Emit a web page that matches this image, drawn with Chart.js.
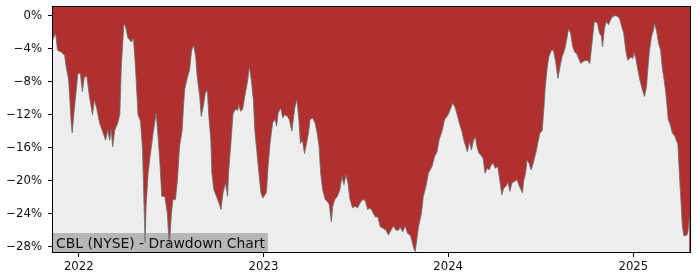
<!DOCTYPE html>
<html>
<head>
<meta charset="utf-8">
<script src="https://cdn.jsdelivr.net/npm/chart.js@4.4.1/dist/chart.umd.min.js"></script>
<style>
  html, body { margin: 0; padding: 0; background: #fff; }
</style>
</head>
<body>
<canvas id="chart" width="700" height="280"></canvas>
<script>
// drawdown samples (percent below running high)
const dates = [
  "2021-11-11", "2021-11-16", "2021-11-20", "2021-11-27", "2021-12-04", "2021-12-07", "2021-12-12", "2021-12-17",
  "2021-12-19", "2021-12-23", "2021-12-27", "2021-12-30", "2022-01-04", "2022-01-08", "2022-01-12", "2022-01-17",
  "2022-01-22", "2022-01-28", "2022-02-01", "2022-02-06", "2022-02-11", "2022-02-18", "2022-02-23", "2022-02-27",
  "2022-03-03", "2022-03-06", "2022-03-09", "2022-03-13", "2022-03-19", "2022-03-23", "2022-03-26", "2022-03-31",
  "2022-04-03", "2022-04-08", "2022-04-15", "2022-04-19", "2022-04-23", "2022-04-28", "2022-05-03", "2022-05-07",
  "2022-05-10", "2022-05-12", "2022-05-14", "2022-05-18", "2022-05-21", "2022-05-28", "2022-06-03", "2022-06-06",
  "2022-06-10", "2022-06-14", "2022-06-20", "2022-06-25", "2022-06-29", "2022-07-03", "2022-07-06", "2022-07-11",
  "2022-07-15", "2022-07-19", "2022-07-24", "2022-07-29", "2022-08-04", "2022-08-08", "2022-08-12", "2022-08-16",
  "2022-08-20", "2022-08-23", "2022-08-28", "2022-08-31", "2022-09-04", "2022-09-08", "2022-09-12", "2022-09-15",
  "2022-09-19", "2022-09-21", "2022-09-25", "2022-09-30", "2022-10-05", "2022-10-09", "2022-10-13", "2022-10-18",
  "2022-10-22", "2022-10-24", "2022-10-28", "2022-11-02", "2022-11-07", "2022-11-11", "2022-11-13", "2022-11-17",
  "2022-11-21", "2022-11-25", "2022-12-01", "2022-12-04", "2022-12-08", "2022-12-12", "2022-12-15", "2022-12-18",
  "2022-12-23", "2022-12-27", "2022-12-31", "2023-01-07", "2023-01-10", "2023-01-14", "2023-01-19", "2023-01-24",
  "2023-01-27", "2023-01-30", "2023-02-04", "2023-02-08", "2023-02-12", "2023-02-17", "2023-02-21", "2023-02-26",
  "2023-03-01", "2023-03-04", "2023-03-08", "2023-03-12", "2023-03-15", "2023-03-19", "2023-03-23", "2023-03-27",
  "2023-03-31", "2023-04-03", "2023-04-08", "2023-04-13", "2023-04-17", "2023-04-21", "2023-04-24", "2023-04-28",
  "2023-05-03", "2023-05-07", "2023-05-11", "2023-05-15", "2023-05-18", "2023-05-22", "2023-05-27", "2023-06-01",
  "2023-06-05", "2023-06-09", "2023-06-13", "2023-06-17", "2023-06-21", "2023-06-26", "2023-07-01", "2023-07-06",
  "2023-07-11", "2023-07-16", "2023-07-21", "2023-07-26", "2023-07-31", "2023-08-04", "2023-08-10", "2023-08-15",
  "2023-08-20", "2023-08-26", "2023-08-31", "2023-09-05", "2023-09-10", "2023-09-15", "2023-09-20", "2023-09-25",
  "2023-09-28", "2023-10-03", "2023-10-08", "2023-10-13", "2023-10-18", "2023-10-21", "2023-10-25", "2023-10-28",
  "2023-10-31", "2023-11-03", "2023-11-09", "2023-11-13", "2023-11-18", "2023-11-23", "2023-11-30", "2023-12-05",
  "2023-12-10", "2023-12-14", "2023-12-20", "2023-12-25", "2024-01-01", "2024-01-05", "2024-01-10", "2024-01-14",
  "2024-01-18", "2024-01-23", "2024-01-28", "2024-02-01", "2024-02-05", "2024-02-08", "2024-02-12", "2024-02-16",
  "2024-02-20", "2024-02-24", "2024-02-27", "2024-03-02", "2024-03-06", "2024-03-10", "2024-03-14", "2024-03-18",
  "2024-03-22", "2024-03-26", "2024-03-30", "2024-04-03", "2024-04-08", "2024-04-12", "2024-04-16", "2024-04-20",
  "2024-04-24", "2024-04-28", "2024-05-02", "2024-05-06", "2024-05-11", "2024-05-16", "2024-05-21", "2024-05-27",
  "2024-05-29", "2024-06-02", "2024-06-05", "2024-06-09", "2024-06-13", "2024-06-17", "2024-06-22", "2024-06-26",
  "2024-06-30", "2024-07-05", "2024-07-08", "2024-07-11", "2024-07-15", "2024-07-18", "2024-07-23", "2024-07-27",
  "2024-07-31", "2024-08-05", "2024-08-09", "2024-08-13", "2024-08-18", "2024-08-22", "2024-08-26", "2024-08-30",
  "2024-09-03", "2024-09-07", "2024-09-11", "2024-09-15", "2024-09-19", "2024-09-25", "2024-10-02", "2024-10-07",
  "2024-10-12", "2024-10-16", "2024-10-22", "2024-10-26", "2024-10-30", "2024-11-01", "2024-11-05", "2024-11-09",
  "2024-11-13", "2024-11-17", "2024-11-21", "2024-11-27", "2024-12-01", "2024-12-05", "2024-12-09", "2024-12-13",
  "2024-12-17", "2024-12-21", "2024-12-27", "2024-12-31", "2025-01-02", "2025-01-06", "2025-01-10", "2025-01-14",
  "2025-01-19", "2025-01-23", "2025-01-27", "2025-01-30", "2025-02-02", "2025-02-06", "2025-02-10", "2025-02-12",
  "2025-02-16", "2025-02-20", "2025-02-24", "2025-02-27", "2025-03-03", "2025-03-07", "2025-03-11", "2025-03-15",
  "2025-03-19", "2025-03-24", "2025-03-28", "2025-03-30", "2025-04-02", "2025-04-05", "2025-04-08", "2025-04-11",
  "2025-04-17", "2025-04-19", "2025-04-22",
];

const drawdown = [
  -2.9, -2.1, -4.2, -4.4, -4.8, -6.2, -7.8, -13.0,
  -14.2, -11.4, -9.0, -7.0, -7.0, -9.2, -7.4, -7.4,
  -9.8, -12.0, -10.2, -11.4, -13.0, -14.2, -15.1, -13.9,
  -15.1, -13.8, -15.9, -13.9, -13.0, -12.0, -6.2, -1.1,
  -1.2, -2.7, -3.2, -2.7, -6.2, -12.0, -12.8, -16.3,
  -23.1, -27.5, -23.1, -19.1, -17.5, -14.2, -11.8, -14.2,
  -17.5, -21.9, -21.9, -24.0, -28.0, -24.0, -22.3, -22.3,
  -19.9, -15.9, -14.0, -9.0, -7.4, -6.6, -4.2, -3.6,
  -5.0, -7.4, -9.8, -12.2, -11.0, -9.4, -9.0, -12.2,
  -15.1, -19.1, -21.1, -21.9, -22.7, -23.5, -21.5, -20.3,
  -21.9, -19.1, -15.9, -11.8, -11.3, -11.5, -10.8, -11.6,
  -11.3, -9.8, -7.8, -6.2, -7.8, -10.2, -14.0, -15.9,
  -19.1, -21.5, -22.1, -21.4, -18.3, -15.5, -13.0, -12.6,
  -13.4, -11.8, -11.2, -12.4, -12.0, -12.2, -12.6, -14.0,
  -12.6, -11.1, -10.2, -12.6, -15.5, -15.1, -16.7, -15.5,
  -14.2, -12.6, -12.4, -13.0, -14.2, -15.9, -19.1, -21.1,
  -22.3, -22.5, -22.9, -25.0, -23.1, -22.3, -21.9, -21.1,
  -19.5, -20.5, -19.3, -20.3, -22.3, -23.3, -23.1, -23.3,
  -22.7, -22.3, -22.4, -23.5, -23.3, -23.7, -24.4, -24.4,
  -25.6, -25.8, -26.0, -26.6, -26.0, -25.5, -26.0, -26.0,
  -25.6, -26.2, -25.5, -26.4, -26.6, -27.2, -28.2, -28.6,
  -27.2, -25.7, -24.0, -21.9, -20.7, -19.1, -18.3, -17.1,
  -16.5, -15.1, -14.0, -12.6, -12.0, -11.4, -10.6, -11.0,
  -11.8, -13.0, -14.0, -15.1, -15.9, -16.5, -15.3, -16.3,
  -15.1, -14.7, -15.9, -16.7, -16.9, -17.3, -19.1, -18.5,
  -18.7, -18.1, -17.9, -18.5, -18.3, -19.9, -21.7, -20.9,
  -20.7, -20.2, -21.3, -20.3, -20.1, -19.9, -20.7, -21.5,
  -20.1, -19.1, -17.5, -17.9, -18.7, -17.9, -16.7, -15.5,
  -14.3, -13.9, -11.4, -8.6, -6.2, -5.0, -4.2, -4.2,
  -5.4, -7.6, -6.2, -5.0, -4.2, -3.0, -1.6, -2.1,
  -3.7, -4.4, -4.6, -5.2, -5.8, -5.5, -5.4, -5.8,
  -2.9, -0.7, -0.9, -2.1, -2.5, -3.8, -1.5, -0.7,
  -1.1, -0.5, -0.1, 0.0, -0.1, -0.4, -1.3, -2.1,
  -4.2, -5.4, -5.0, -5.2, -4.4, -5.2, -6.6, -7.8,
  -9.0, -9.8, -8.6, -6.2, -4.2, -2.5, -1.7, -0.9,
  -1.9, -3.4, -4.2, -6.2, -7.8, -9.8, -12.6, -13.2,
  -14.2, -14.6, -15.3, -15.5, -19.1, -22.3, -25.6, -26.7,
  -26.6, -26.1, -24.4,
];

const yearTicks = ["2022-01-01", "2023-01-01", "2024-01-01", "2025-01-01"];
const yTicks = [0, -4, -8, -12, -16, -20, -24, -28];
const xEnd = "2025-04-23";
const yMin = -28.65;
const yMax = 1.05;
const title = "CBL (NYSE) - Drawdown Chart";

const DAY = 86400000;
const toDay = (s) => Date.parse(s + "T00:00:00Z") / DAY;
const points = dates.map((d, i) => ({ x: toDay(d), y: drawdown[i] }));

const tickFont = { family: "'DejaVu Sans', sans-serif", size: 11.7 };

// red plot background, black frame and the caption box in the corner
const framePlugin = {
  id: "frame",
  beforeDraw(chart) {
    const { ctx, chartArea: a } = chart;
    ctx.save();
    ctx.fillStyle = "#b03030";
    ctx.fillRect(a.left, a.top, a.right - a.left, a.bottom - a.top);
    ctx.restore();
  },
  afterDraw(chart) {
    const { ctx, chartArea: a } = chart;
    ctx.save();
    ctx.font = "13.9px 'DejaVu Sans', sans-serif";
    const w = ctx.measureText(title).width;
    ctx.fillStyle = "rgba(128,128,128,0.5)";
    ctx.fillRect(a.left, a.bottom - 19, w + 6, 19);
    ctx.fillStyle = "#111";
    ctx.textBaseline = "alphabetic";
    ctx.fillText(title, a.left + 3, a.bottom - 4.5);

    ctx.strokeStyle = "#000";
    ctx.lineWidth = 1;
    ctx.strokeRect(a.left - 0.5, a.top - 0.5, a.right - a.left + 1, a.bottom - a.top + 1);
    ctx.restore();
  },
};

new Chart(document.getElementById("chart"), {
  type: "line",
  data: {
    datasets: [
      {
        data: points,
        borderColor: "rgba(110,110,110,0.85)",
        borderWidth: 1,
        backgroundColor: "#eeeeee",
        fill: "start",
        pointRadius: 0,
        tension: 0,
      },
    ],
  },
  options: {
    responsive: false,
    animation: false,
    events: [],
    layout: { padding: { top: 7, right: 10, left: 0, bottom: 0 } },
    plugins: { legend: { display: false }, tooltip: { enabled: false } },
    scales: {
      x: {
        type: "linear",
        min: toDay(dates[0]),
        max: toDay(xEnd),
        afterBuildTicks: (s) => {
          s.ticks = yearTicks.map((d) => ({ value: toDay(d) }));
        },
        afterFit: (s) => {
          s.height = 28;
          s.paddingLeft = 0;
          s.paddingRight = 0;
        },
        grid: { drawOnChartArea: false, drawTicks: true, tickLength: 5, color: "#000" },
        border: { display: false },
        ticks: {
          autoSkip: false,
          maxRotation: 0,
          padding: 3,
          color: "#111",
          font: tickFont,
          callback: (v) => String(new Date(v * DAY).getUTCFullYear()),
        },
      },
      y: {
        min: yMin,
        max: yMax,
        afterBuildTicks: (s) => {
          s.ticks = yTicks.map((v) => ({ value: v }));
        },
        afterFit: (s) => {
          s.width = 53;
          s.paddingTop = 0;
          s.paddingBottom = 0;
        },
        grid: { drawOnChartArea: false, drawTicks: true, tickLength: 5, color: "#000" },
        border: { display: false },
        ticks: {
          autoSkip: false,
          padding: 6,
          color: "#111",
          font: tickFont,
          callback: (v) => (v < 0 ? "\u2212" + Math.abs(v) : String(v)) + "%",
        },
      },
    },
  },
  plugins: [framePlugin],
});
</script>
</body>
</html>
